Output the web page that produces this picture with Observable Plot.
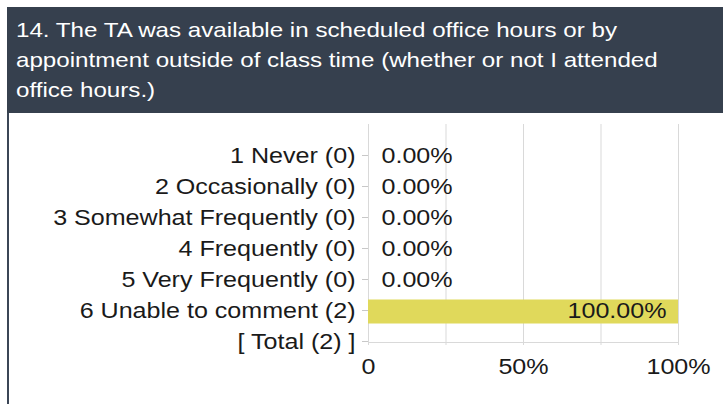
<!DOCTYPE html>
<html>
<head>
<meta charset="utf-8">
<script src="https://cdn.jsdelivr.net/npm/d3@7"></script>
<script src="https://cdn.jsdelivr.net/npm/@observablehq/plot@0.6"></script>
<style>
  html, body { margin: 0; padding: 0; background: #fff; }
  body { width: 723px; height: 404px; overflow: hidden; font-family: "Liberation Sans", Arial, sans-serif; }
  #wrap { position: absolute; left: 7px; top: 7px; right: 0; bottom: 0; border-left: 2px solid #3b4656; }
  #title { background: #36404e; color: #fff; font-size: 21px; line-height: 30px; height: 106px; box-sizing: border-box; margin-left: -2px; padding: 8px 0 0 9px; overflow: hidden; }
  #title span { display: inline-block; transform: scaleX(1.15); transform-origin: 0 0; white-space: nowrap; }
  #chart svg { display: block; }
</style>
</head>
<body>
<div id="wrap">
  <div id="title"><span>14. The TA was available in scheduled office hours or by<br>appointment outside of class time (whether or not I attended<br>office hours.)</span></div>
  <div id="chart"></div>
</div>
<script>
const categories = ["1 Never (0)", "2 Occasionally (0)", "3 Somewhat Frequently (0)", "4 Frequently (0)", "5 Very Frequently (0)", "6 Unable to comment (2)", "[ Total (2) ]"];
const percents = [0, 0, 0, 0, 0, 100, null];
const valueLabels = ["0.00%", "0.00%", "0.00%", "0.00%", "0.00%", "100.00%", ""];
const gridTicks = [0, 25, 50, 75, 100];
const xTickLabels = {0: "0", 50: "50%", 100: "100%"};

const rows = categories.map((c, i) => ({category: c, value: percents[i], label: valueLabels[i]}))
  .filter(d => d.value !== null);

const font = "\"Liberation Sans\", Arial, sans-serif";

const chart = Plot.plot({
  width: 714,
  height: 291,
  marginLeft: 359,
  marginRight: 45,
  marginTop: 11,
  marginBottom: 62,
  style: {fontFamily: font, background: "transparent"},
  x: {domain: [0, 100], axis: null},
  y: {type: "point", domain: ["", ...categories], padding: 0, axis: null},
  marks: [
    Plot.ruleX(gridTicks, {x: d => d, stroke: "#d9d9d9", strokeWidth: 1}),
    Plot.ruleY([categories[categories.length - 1]], {y: d => d, x1: 0, x2: 100, stroke: "#d9d9d9"}),
    Plot.ruleY(rows.filter(d => d.value > 0), {y: "category", x1: 0, x2: "value", stroke: "#e0d95b", strokeWidth: 24}),
    Plot.text(rows.filter(d => d.value === 0), {y: "category", x: 0, dx: 13, dy: -1, text: "label", textAnchor: "start", fontSize: 22, fill: "#1a1a1a"}),
    Plot.text(rows.filter(d => d.value > 0), {y: "category", x: "value", dx: -12, dy: -1, text: "label", textAnchor: "end", fontSize: 22, fill: "#1a1a1a"}),
    Plot.axisY({ticks: categories, tickSize: 6, tickPadding: 7, dy: -1, stroke: "#c8c8c8", fill: "#1a1a1a", fontSize: 22, label: null}),
    Plot.axisX({ticks: gridTicks, tickFormat: d => xTickLabels[d] ?? "", tickSize: 3, tickPadding: 13, stroke: "#d9d9d9", fill: "#1a1a1a", fontSize: 22, label: null})
  ]
});
// widen the glyphs horizontally to match the reference's stretched lettering
chart.querySelectorAll("text").forEach(t => {
  const tr = t.getAttribute("transform");
  if (tr) t.setAttribute("transform", tr + " scale(1.14,1)");
});
document.getElementById("chart").appendChild(chart);
</script>
</body>
</html>
